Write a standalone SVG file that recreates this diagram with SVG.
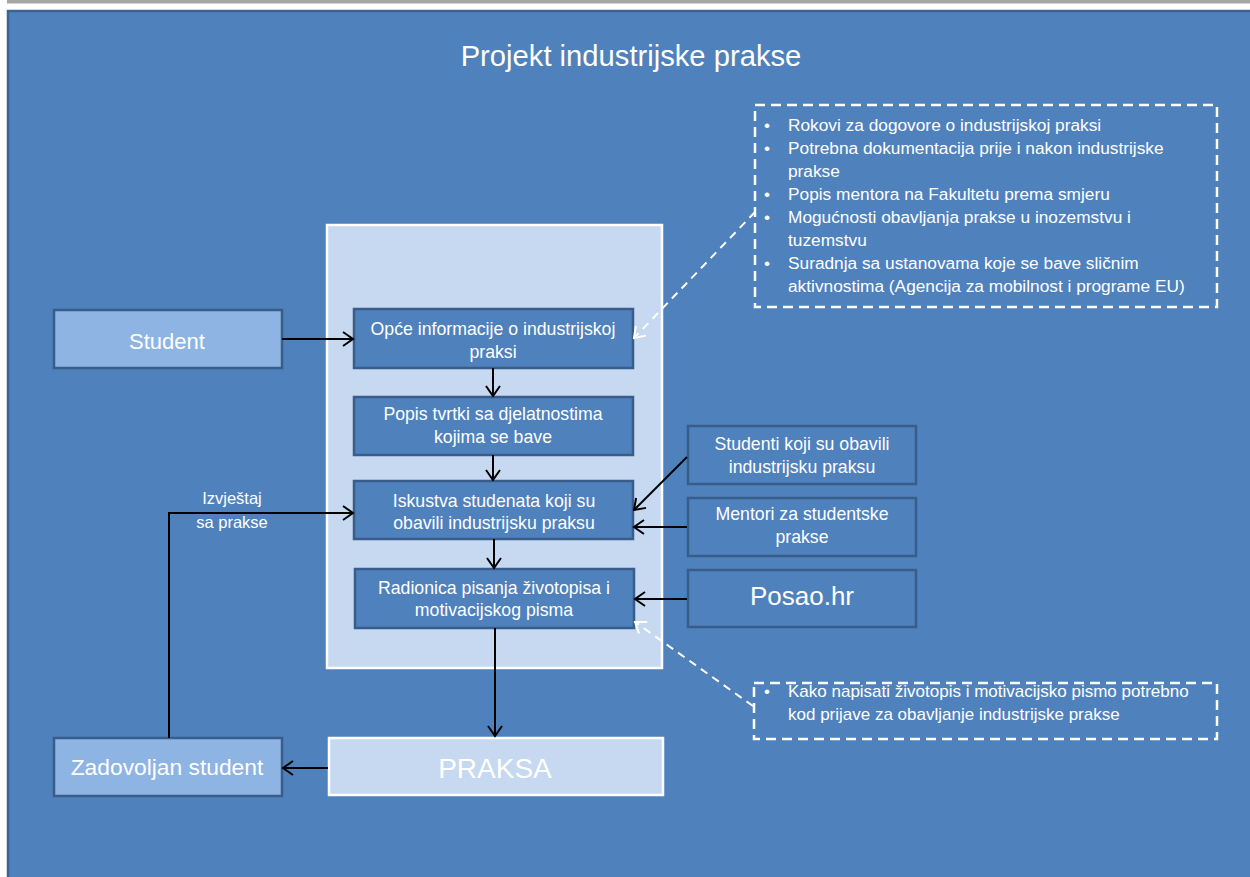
<svg xmlns="http://www.w3.org/2000/svg" width="1250" height="877" viewBox="0 0 1250 877">
<style>
text{font-family:"Liberation Sans",Arial,sans-serif;fill:#ffffff;text-anchor:middle}
.box{fill:#4f81bd;stroke:#385d8a;stroke-width:2.5}
.lbox{fill:#8eb4e3;stroke:#385d8a;stroke-width:2.5}
.cont{fill:#c6d9f1;stroke:#ffffff;stroke-width:2.5}
.t{font-size:17.7px}
.bl{font-size:17.3px;text-anchor:start}
.dash{fill:none;stroke:#ffffff;stroke-width:2.5;stroke-dasharray:10 6}
.c{fill:none;stroke:#000000;stroke-width:2;marker-end:url(#ah)}
.cw{fill:none;stroke:#ffffff;stroke-width:2;stroke-dasharray:8 6;marker-end:url(#aw)}
</style>
<defs>
<marker id="ah" markerUnits="userSpaceOnUse" markerWidth="14" markerHeight="16" viewBox="0 0 14 16" refX="12" refY="8" orient="auto">
<path d="M2,1 L12,8 L2,15" fill="none" stroke="#000000" stroke-width="2"/>
</marker>
<marker id="aw" markerUnits="userSpaceOnUse" markerWidth="14" markerHeight="16" viewBox="0 0 14 16" refX="12" refY="8" orient="auto">
<path d="M2,1 L12,8 L2,15" fill="none" stroke="#ffffff" stroke-width="2"/>
</marker>
</defs>
<rect x="0" y="0" width="1250" height="877" fill="#ffffff"/>
<rect x="7" y="0" width="1243" height="3.5" fill="#a6a6a6"/>
<rect x="8" y="11" width="1250" height="880" fill="#4f81bd" stroke="#3a6495" stroke-width="2.5"/>
<text x="631" y="66" style="font-size:29.2px">Projekt industrijske prakse</text>

<g id="container"><rect class="cont" x="327" y="225" width="335" height="443"/></g>

<g id="info-box">
<rect class="dash" x="755" y="105" width="462" height="202"/>
<text class="bl" x="764" y="130.5">•</text><text class="bl" x="788" y="130.5">Rokovi za dogovore o industrijskoj praksi</text>
<text class="bl" x="764" y="153.5">•</text><text class="bl" x="788" y="153.5">Potrebna dokumentacija prije i nakon industrijske</text>
<text class="bl" x="788" y="176.5">prakse</text>
<text class="bl" x="764" y="199.5">•</text><text class="bl" x="788" y="199.5">Popis mentora na Fakultetu prema smjeru</text>
<text class="bl" x="764" y="222.5">•</text><text class="bl" x="788" y="222.5">Mogućnosti obavljanja prakse u inozemstvu i</text>
<text class="bl" x="788" y="245.5">tuzemstvu</text>
<text class="bl" x="764" y="268.5">•</text><text class="bl" x="788" y="268.5">Suradnja sa ustanovama koje se bave sličnim</text>
<text class="bl" x="788" y="291.5">aktivnostima (Agencija za mobilnost i programe EU)</text>
</g>

<g id="cv-box">
<rect class="dash" x="754" y="683" width="463" height="56"/>
<text class="bl" x="764" y="697" style="font-size:17px">•</text><text class="bl" x="788" y="697" style="font-size:17px">Kako napisati životopis i motivacijsko pismo potrebno</text>
<text class="bl" x="788" y="720" style="font-size:17px">kod prijave za obavljanje industrijske prakse</text>
</g>

<g id="student"><rect class="lbox" x="54" y="310" width="228" height="58"/><text x="167" y="349" style="font-size:22px">Student</text></g>
<g id="zadovoljan"><rect class="lbox" x="54" y="738" width="228" height="58"/><text x="167" y="775" style="font-size:22.8px">Zadovoljan student</text></g>

<g id="opce"><rect class="box" x="354" y="309" width="279" height="59"/><text class="t" x="493" y="335">Opće informacije o industrijskoj</text><text class="t" x="493" y="357.5">praksi</text></g>
<g id="popis"><rect class="box" x="354" y="397" width="279" height="58"/><text class="t" x="493" y="419.5">Popis tvrtki sa djelatnostima</text><text class="t" x="493" y="442.5">kojima se bave</text></g>
<g id="iskustva"><rect class="box" x="354" y="481" width="279" height="58"/><text class="t" x="494" y="506.5">Iskustva studenata koji su</text><text class="t" x="494" y="529">obavili industrijsku praksu</text></g>
<g id="radionica"><rect class="box" x="355" y="569" width="279" height="59"/><text class="t" x="494" y="593.5">Radionica pisanja životopisa i</text><text class="t" x="494" y="616">motivacijskog pisma</text></g>

<g id="praksa"><rect class="cont" x="329" y="738" width="334" height="57"/><text x="495" y="778" style="font-size:28px">PRAKSA</text></g>

<g id="studenti-obavili"><rect class="box" x="688" y="426" width="228" height="58"/><text class="t" x="802" y="449.5">Studenti koji su obavili</text><text class="t" x="802" y="472.5">industrijsku praksu</text></g>
<g id="mentori"><rect class="box" x="688" y="498" width="228" height="58"/><text class="t" x="802" y="520">Mentori za studentske</text><text class="t" x="802" y="543">prakse</text></g>
<g id="posao"><rect class="box" x="688" y="570" width="228" height="57"/><text x="802" y="605" style="font-size:26px">Posao.hr</text></g>

<g id="connectors">
<line class="c" x1="282" y1="339" x2="353" y2="339"/>
<line class="c" x1="493" y1="368" x2="493" y2="396"/>
<line class="c" x1="493" y1="455" x2="493" y2="480"/>
<line class="c" x1="494" y1="539" x2="494" y2="568"/>
<line class="c" x1="495" y1="628" x2="495" y2="736"/>
<line class="c" x1="328" y1="768" x2="283" y2="768"/>
<polyline class="c" points="169,738 169,513 353,513"/>
<line class="c" x1="687" y1="457" x2="634" y2="510"/>
<line class="c" x1="687" y1="527" x2="634" y2="527"/>
<line class="c" x1="687" y1="599" x2="635" y2="599"/>
<line class="cw" x1="755" y1="212" x2="634" y2="338"/>
<line class="cw" x1="753" y1="706" x2="635" y2="622"/>
<text x="232" y="504" style="font-size:16.5px">Izvještaj</text>
<text x="232" y="527.5" style="font-size:16.5px">sa prakse</text>
</g>
</svg>
